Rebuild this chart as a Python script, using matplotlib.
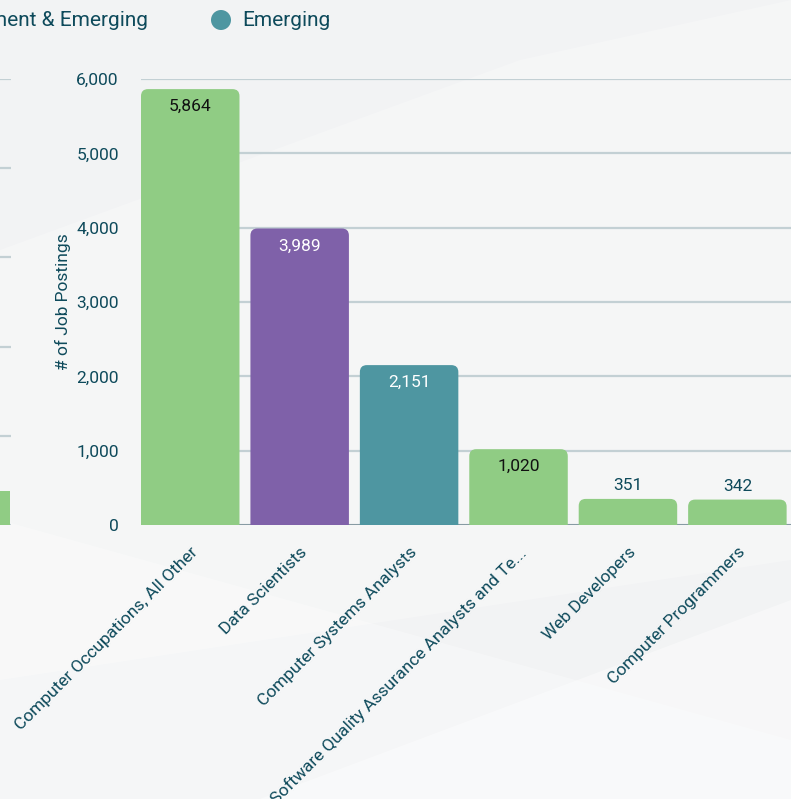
import numpy as np
import matplotlib
matplotlib.use('Agg')
import matplotlib.pyplot as plt
from matplotlib.patches import FancyBboxPatch, Polygon, Circle

plt.rcParams['font.family'] = ['Roboto', 'DejaVu Sans']

# data
occupations = ['Computer Occupations, All Other', 'Data Scientists',
               'Computer Systems Analysts',
               'Software Quality Assurance Analysts and Te...',
               'Web Developers', 'Computer Programmers']
postings = [5864, 3989, 2151, 1020, 351, 342]
groups = ['Development & Emerging', 'Emerging']
bar_group = ['green', 'purple', 'teal', 'green', 'green', 'green']
y_ticks = [0, 1000, 2000, 3000, 4000, 5000, 6000]
# sliver of the neighbouring chart on the left edge
left_values = [0.38]

colors = {'green': '#90cc84', 'purple': '#7f61a9', 'teal': '#4e96a1'}
label_colors = {'green': '#111111', 'purple': 'white', 'teal': 'white'}
text_col = '#0e4a5b'
grid_col = '#c3d0d4'
base_col = '#80959e'

W, H = 791, 799
fig = plt.figure(figsize=(W / 100, H / 100), dpi=100)
fig.patch.set_facecolor('#f2f3f4')

# faint background shapes (diagonal facets)
bg = fig.add_axes([0, 0, 1, 1])
bg.set_xlim(0, W)
bg.set_ylim(H, 0)
bg.axis('off')
bg.add_patch(Polygon([[0, 250], [520, 60], [791, 0], [791, 560], [0, 120 + 560]],
                     closed=True, color='white', alpha=0.25, lw=0))
bg.add_patch(Polygon([[0, 520], [791, 740], [791, 799], [0, 799]],
                     closed=True, color='white', alpha=0.3, lw=0))
bg.add_patch(Polygon([[260, 799], [791, 600], [791, 799]],
                     closed=True, color='white', alpha=0.4, lw=0))

# legend (cut off on the left, like the screenshot)
fig.text(148 / W, 1 - 20 / H, groups[0], ha='right', va='center',
         fontsize=15, color=text_col)
bg.add_patch(Circle((221, 20), 10, color=colors['teal'], lw=0))
fig.text(242 / W, 1 - 20 / H, groups[1], ha='left', va='center',
         fontsize=15, color=text_col)

# main chart
left, right, top, bottom = 141, 791, 79, 525
ax = fig.add_axes([left / W, 1 - bottom / H, (right - left) / W, (bottom - top) / H])
ax.set_facecolor('none')
x = np.arange(len(occupations))
ax.set_xlim(-0.45, 5.49)
ax.set_ylim(0, 6000)

bars = ax.bar(x, postings, width=0.9, color=[colors[g] for g in bar_group])
# rounded top corners
px_x = 1 / 109.5
px_y = 6000 / 446
for b in bars:
    bx, bw, bh = b.get_x(), b.get_width(), b.get_height()
    fc = b.get_facecolor()
    b.remove()
    r = 7 * px_x
    p = FancyBboxPatch((bx + r, -400 + r * px_y / px_x), bw - 2 * r,
                       bh + 400 - 2 * r * px_y / px_x,
                       boxstyle='round,pad=%f,rounding_size=%f' % (r, r),
                       mutation_aspect=px_y / px_x, fc=fc, ec='none',
                       zorder=2, clip_on=True)
    ax.add_patch(p)

for i, v in enumerate(postings):
    if v > 800:
        ax.text(i, v - 10 * px_y, f'{v:,}', ha='center', va='top',
                fontsize=12.5, color=label_colors[bar_group[i]], zorder=3)
    else:
        ax.text(i, v + 6 * px_y, f'{v:,}', ha='center', va='bottom',
                fontsize=12.5, color=text_col, zorder=3)

ax.set_yticks(y_ticks)
ax.set_yticklabels([f'{t:,}' for t in y_ticks])
ax.yaxis.grid(True, color=grid_col, lw=1.6, zorder=0)
ax.set_axisbelow(True)
ax.axhline(0, color=base_col, lw=2, zorder=1)
for s in ax.spines.values():
    s.set_visible(False)
ax.tick_params(axis='both', length=0, labelsize=12.5, labelcolor=text_col)
ax.tick_params(axis='y', pad=16)
ax.set_xticks(x)
ax.set_xticklabels(occupations, rotation=45, ha='right',
                   rotation_mode='anchor')
ax.tick_params(axis='x', pad=14)
ax.set_ylabel('# of Job Postings', fontsize=12.5, color=text_col, labelpad=4)

# neighbouring chart sliver
ax2 = fig.add_axes([0, 1 - bottom / H, 11 / W, (bottom - top) / H])
ax2.set_facecolor('none')
ax2.set_xlim(0, 1)
ax2.set_ylim(0, 5)
ax2.bar([0], left_values, width=1.8, color=colors['green'])
ax2.set_yticks(range(6))
ax2.yaxis.grid(True, color=grid_col, lw=1.6)
ax2.set_axisbelow(True)
ax2.set_xticks([])
ax2.tick_params(length=0, labelleft=False)
for s in ax2.spines.values():
    s.set_visible(False)

fig.savefig('out.png', dpi=100, facecolor=fig.get_facecolor())
